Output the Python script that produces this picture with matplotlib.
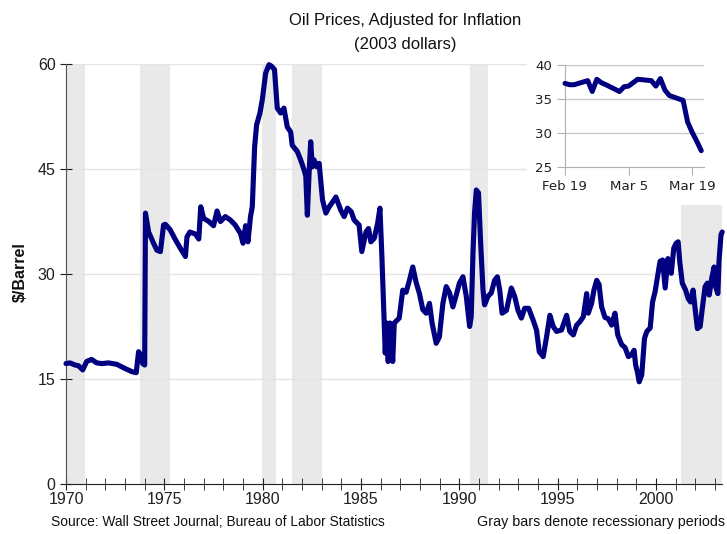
import matplotlib
matplotlib.use('Agg')
import matplotlib.pyplot as plt
from matplotlib.patches import Rectangle

# ---- main series (decimal year, $/barrel in 2003 dollars) ----
years = [1970.00, 1970.20, 1970.46, 1970.63, 1970.85, 1971.05, 1971.30, 1971.56, 1971.82,
         1972.16, 1972.58, 1973.00, 1973.35, 1973.57, 1973.69, 1973.81, 1973.90, 1974.00,
         1974.04, 1974.20, 1974.45, 1974.62, 1974.80, 1974.96, 1975.05, 1975.30, 1975.56,
         1975.81, 1976.07, 1976.15, 1976.30, 1976.58, 1976.75, 1976.85, 1977.00, 1977.26,
         1977.50, 1977.68, 1977.85, 1978.10, 1978.36, 1978.60, 1978.87, 1979.00, 1979.13,
         1979.25, 1979.38, 1979.47, 1979.59, 1979.69, 1979.86, 1979.98, 1980.15, 1980.32,
         1980.44, 1980.60, 1980.74, 1980.91, 1981.08, 1981.25, 1981.42, 1981.50, 1981.76,
         1981.93, 1982.10, 1982.19, 1982.27, 1982.36, 1982.44, 1982.52, 1982.61, 1982.75,
         1982.87, 1983.04, 1983.21, 1983.38, 1983.63, 1983.72, 1983.97, 1984.14, 1984.31,
         1984.50, 1984.65, 1984.90, 1985.04, 1985.25, 1985.38, 1985.50, 1985.67, 1985.84,
         1985.96, 1986.06, 1986.15, 1986.23, 1986.30, 1986.38, 1986.47, 1986.61, 1986.69,
         1986.94, 1987.12, 1987.29, 1987.46, 1987.63, 1987.80, 1987.97, 1988.14, 1988.31,
         1988.48, 1988.61, 1988.82, 1988.98, 1989.16, 1989.33, 1989.50, 1989.67, 1989.84,
         1990.00, 1990.18, 1990.35, 1990.52, 1990.60, 1990.69, 1990.77, 1990.86, 1990.97,
         1991.08, 1991.20, 1991.28, 1991.45, 1991.62, 1991.79, 1991.93, 1992.05, 1992.17,
         1992.39, 1992.64, 1992.81, 1992.98, 1993.15, 1993.32, 1993.52, 1993.75, 1993.92,
         1994.06, 1994.26, 1994.43, 1994.60, 1994.77, 1994.94, 1995.19, 1995.45, 1995.61,
         1995.79, 1995.96, 1996.13, 1996.30, 1996.47, 1996.55, 1996.72, 1996.84, 1996.98,
         1997.10, 1997.23, 1997.40, 1997.57, 1997.74, 1997.91, 1998.05, 1998.25, 1998.42,
         1998.59, 1998.76, 1998.88, 1998.96, 1999.05, 1999.14, 1999.27, 1999.41, 1999.53,
         1999.70, 1999.82, 1999.95, 2000.09, 2000.20, 2000.33, 2000.46, 2000.60, 2000.77,
         2000.90, 2001.02, 2001.12, 2001.20, 2001.33, 2001.50, 2001.63, 2001.75, 2001.88,
         2001.98, 2002.10, 2002.24, 2002.35, 2002.49, 2002.61, 2002.70, 2002.83, 2002.95,
         2003.00, 2003.14, 2003.20, 2003.30, 2003.36]
prices = [17.2, 17.3, 17.0, 16.9, 16.3, 17.5, 17.8, 17.3, 17.2,
          17.3, 17.1, 16.5, 16.05, 15.9, 18.9, 18.4, 17.2, 17.0,
          38.7, 36.0, 34.4, 33.4, 33.2, 37.0, 37.1, 36.3, 34.9,
          33.7, 32.5, 35.3, 36.0, 35.7, 35.0, 39.6, 37.95, 37.5,
          36.9, 39.0, 37.5, 38.2, 37.7, 37.0, 35.8, 34.4, 36.9,
          34.6, 38.2, 39.6, 48.2, 51.3, 53.0, 54.9, 58.7, 59.9,
          59.7, 59.2, 53.7, 53.0, 53.7, 51.0, 50.3, 48.4, 47.5,
          46.3, 44.9, 44.0, 38.4, 44.5, 48.9, 45.3, 46.3, 45.3,
          45.8, 40.6, 38.7, 39.6, 40.6, 41.0, 39.1, 38.2, 39.4,
          38.9, 37.7, 37.0, 33.2, 36.0, 36.5, 34.6, 35.1, 37.2,
          39.4, 32.5, 25.3, 18.7, 23.0, 17.5, 23.0, 17.5, 23.0,
          23.7, 27.7, 27.4, 29.1, 31.0, 28.8, 27.2, 24.9, 24.4,
          25.8, 23.0, 20.1, 21.0, 25.8, 28.2, 27.3, 25.3, 27.0,
          28.7, 29.6, 26.8, 22.5, 23.9, 33.0, 38.7, 42.0, 41.6,
          34.4, 27.7, 25.6, 26.8, 27.3, 29.1, 29.6, 27.7, 24.4,
          24.8, 28.0, 26.8, 24.8, 23.7, 25.1, 25.1, 23.4, 22.0,
          18.9, 18.2, 21.0, 24.1, 22.5, 21.8, 22.0, 24.1, 21.8,
          21.3, 22.7, 23.2, 23.9, 27.2, 24.4, 25.8, 27.7, 29.1,
          28.5, 25.3, 23.8, 23.6, 22.7, 24.4, 21.3, 19.9, 19.5,
          18.2, 18.5, 19.1, 17.0, 16.0, 14.6, 15.6, 20.8, 21.8,
          22.3, 26.0, 27.5, 29.9, 31.8, 32.0, 28.0, 32.2, 30.1,
          33.7, 34.4, 34.6, 31.8, 28.7, 27.7, 26.5, 26.0, 27.7,
          25.1, 22.2, 22.5, 25.1, 28.2, 28.7, 27.0, 29.4, 31.0,
          28.4, 27.2, 31.9, 35.6, 36.0]

recessions = [(1969.9, 1970.95), (1973.76, 1975.3), (1979.97, 1980.7),
              (1981.47, 1983.0), (1990.55, 1991.45), (2001.26, 2003.35)]
y_ticks = [0, 15, 30, 45, 60]
x_major = [1970, 1975, 1980, 1985, 1990, 1995, 2000]

# ---- inset series (days after Feb 19, 2003) ----
inset_days = [0, 1, 2, 5, 6, 7, 8, 9, 12, 13, 14, 15, 16, 19, 20, 21, 22, 23,
              26, 27, 28, 29, 30]
inset_prices = [37.3, 37.1, 37.1, 37.7, 36.1, 37.9, 37.4, 37.1, 36.1, 36.8, 36.9,
                37.4, 37.9, 37.7, 36.9, 38.0, 36.3, 35.5, 34.8, 31.6, 30.1, 28.8, 27.4]
inset_xticks = [0, 14, 28]
inset_xticklabels = ['Feb 19', 'Mar 5', 'Mar 19']
inset_yticks = [25, 30, 35, 40]

plt.rcParams['font.family'] = ['Liberation Sans', 'DejaVu Sans']

W, H = 727, 534
fig = plt.figure(figsize=(W / 100, H / 100), dpi=100)

ax = fig.add_axes([66 / W, 1 - 484 / H, (722 - 66) / W, 420 / H])
for s, e in recessions:
    ax.axvspan(s, e, color='#E9E9E9', lw=0, zorder=0)
ax.set_xlim(1970, 2003.35)
ax.set_ylim(0, 60)
ax.set_yticks(y_ticks)
ax.set_yticklabels([str(v) for v in y_ticks])
ax.set_xticks(x_major)
ax.set_xticklabels([str(v) for v in x_major])
ax.set_xticks(list(range(1970, 2004)), minor=True)
for v in y_ticks[1:]:
    ax.axhline(v, color='#E4E4E4', lw=1.0, zorder=1)
ax.plot(years, prices, color='#000080', lw=3.7, solid_joinstyle='round',
        solid_capstyle='round', clip_on=False, zorder=3)
for sp in ['top', 'right']:
    ax.spines[sp].set_visible(False)
ax.spines['left'].set_color('#505050')
ax.spines['bottom'].set_color('#202020')
ax.tick_params(axis='both', which='both', direction='inout', labelsize=11.5,
               colors='#202020')
ax.tick_params(axis='x', which='major', length=9, pad=1)
ax.tick_params(axis='x', which='minor', length=9)
ax.tick_params(axis='y', which='major', length=9, pad=3)

# white patch behind the inset
fig.add_artist(Rectangle((527 / W, 1 - 205 / H), (W - 527) / W, 150 / H,
                         transform=fig.transFigure, facecolor='white',
                         edgecolor='none', zorder=0.5))

ins = fig.add_axes([565 / W, 1 - 167 / H, (704 - 565) / W, 102 / H], zorder=2)
ins.set_xlim(0, 30.6)
ins.set_ylim(25, 40)
for v in inset_yticks[1:]:
    ins.axhline(v, color='#C8C8C8', lw=1.0, zorder=1)
ins.plot(inset_days, inset_prices, color='#000080', lw=3.6,
         solid_joinstyle='round', solid_capstyle='round', zorder=3, clip_on=False)
ins.set_xticks(inset_xticks)
ins.set_xticklabels(inset_xticklabels)
ins.set_yticks(inset_yticks)
ins.set_yticklabels([str(v) for v in inset_yticks])
for sp in ['top', 'right']:
    ins.spines[sp].set_visible(False)
ins.spines['left'].set_color('#B0B0B0')
ins.spines['bottom'].set_color('#B0B0B0')
ins.tick_params(axis='both', direction='out', length=6, color='#B0B0B0',
                labelsize=9.6, labelcolor='#202020')
for lab in ins.get_xticklabels() + ins.get_yticklabels():
    lab.set_family(['DejaVu Sans'])

fig.text(405 / W, 1 - 20 / H, 'Oil Prices, Adjusted for Inflation',
         ha='center', va='center', fontsize=12, color='#101010')
fig.text(405 / W, 1 - 45 / H, '(2003 dollars)',
         ha='center', va='center', fontsize=12, color='#101010')
fig.text(20 / W, 1 - 272 / H, r'\$/Barrel', rotation=90, ha='center', va='center',
         fontsize=11.5, fontweight='bold', color='#101010')
fig.text(51 / W, 1 - 522 / H, 'Source: Wall Street Journal; Bureau of Labor Statistics',
         ha='left', va='center', fontsize=9.9, color='#101010')
fig.text(725 / W, 1 - 522 / H, 'Gray bars denote recessionary periods',
         ha='right', va='center', fontsize=10.3, color='#101010')

fig.savefig('out.png', dpi=100)
